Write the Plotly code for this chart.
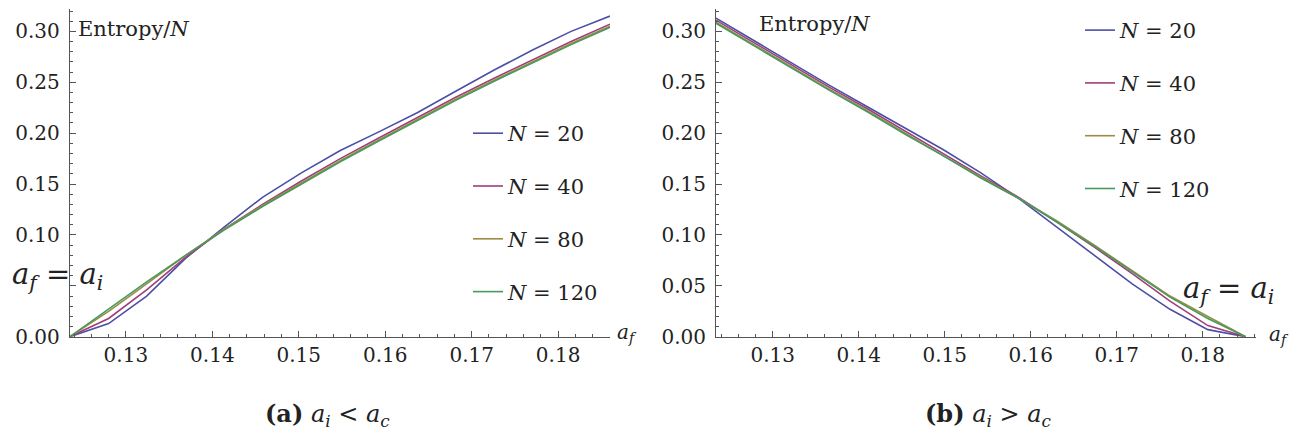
import plotly.graph_objects as go

# ---------------- data ----------------
series_labels = ["<i>N</i> = 20", "<i>N</i> = 40", "<i>N</i> = 80", "<i>N</i> = 120"]

# (a) a_i < a_c
af_left = [0.1235, 0.1280, 0.1324, 0.1369, 0.1414, 0.1458, 0.1503, 0.1548,
           0.1592, 0.1637, 0.1681, 0.1726, 0.1771, 0.1815, 0.1860]
left_N20 = [0.000, 0.013, 0.040, 0.077, 0.108, 0.137, 0.161, 0.183,
            0.201, 0.220, 0.241, 0.262, 0.282, 0.300, 0.315]
left_N40 = [0.000, 0.018, 0.046, 0.078, 0.106, 0.130, 0.153, 0.175,
            0.195, 0.215, 0.235, 0.254, 0.272, 0.290, 0.307]
left_N80 = [0.000, 0.025, 0.052, 0.080, 0.106, 0.129, 0.151, 0.173,
            0.193, 0.213, 0.233, 0.252, 0.270, 0.288, 0.305]
left_N120 = [0.000, 0.027, 0.054, 0.080, 0.105, 0.128, 0.150, 0.172,
             0.192, 0.212, 0.232, 0.251, 0.269, 0.287, 0.304]

# (b) a_i > a_c
af_right = [0.1234, 0.1278, 0.1322, 0.1366, 0.1410, 0.1454, 0.1498, 0.1542,
            0.1586, 0.1630, 0.1674, 0.1718, 0.1762, 0.1806, 0.1850]
right_N20 = [0.313, 0.291, 0.269, 0.247, 0.226, 0.205, 0.184, 0.161,
             0.136, 0.108, 0.080, 0.052, 0.027, 0.007, 0.000]
right_N40 = [0.311, 0.289, 0.267, 0.245, 0.224, 0.202, 0.180, 0.158,
             0.137, 0.113, 0.088, 0.062, 0.035, 0.011, 0.000]
right_N80 = [0.309, 0.287, 0.265, 0.243, 0.222, 0.200, 0.178, 0.157,
             0.136, 0.114, 0.090, 0.065, 0.040, 0.020, 0.000]
right_N120 = [0.308, 0.286, 0.264, 0.242, 0.221, 0.199, 0.178, 0.156,
              0.136, 0.113, 0.089, 0.064, 0.039, 0.018, 0.000]

x_ticks = [0.13, 0.14, 0.15, 0.16, 0.17, 0.18]
y_ticks = [0.00, 0.05, 0.10, 0.15, 0.20, 0.25, 0.30]
y_ticktext_left = ["0.00", "", "0.10", "0.15", "0.20", "0.25", "0.30"]
y_ticktext_right = ["0.00", "0.05", "0.10", "0.15", "0.20", "0.25", "0.30"]

colors = ["#4b4fa6", "#9e3f7a", "#9c8c45", "#479a5c"]

# ---------------- figure ----------------
W, H = 1308, 440
SERIF = "DejaVu Serif"

fig = go.Figure()
left_sets = [left_N20, left_N40, left_N80, left_N120]
right_sets = [right_N20, right_N40, right_N80, right_N120]
for i in range(4):
    fig.add_trace(go.Scatter(x=af_left, y=left_sets[i], mode="lines",
                             name=series_labels[i], legend="legend",
                             legendgroup="L%d" % i,
                             line=dict(color=colors[i], width=1.6),
                             xaxis="x", yaxis="y", cliponaxis=False))
for i in range(4):
    fig.add_trace(go.Scatter(x=af_right, y=right_sets[i], mode="lines",
                             name=series_labels[i], legend="legend2",
                             legendgroup="R%d" % i,
                             line=dict(color=colors[i], width=1.6),
                             xaxis="x2", yaxis="y2", cliponaxis=False))

def px(x):
    return x / W

def py(y):
    return 1 - y / H

ydom = [py(338), py(1)]

axis_common = dict(showgrid=False, zeroline=False, showline=True,
                   linecolor="#555555", linewidth=1, ticks="inside",
                   tickcolor="#555555", ticklen=6, tickwidth=1,
                   tickfont=dict(family=SERIF, size=20, color="#222222"))

fig.update_layout(
    width=W, height=H,
    margin=dict(l=0, r=0, t=0, b=0),
    paper_bgcolor="white", plot_bgcolor="white",
    showlegend=True,
    font=dict(family=SERIF),
    xaxis=dict(domain=[px(61.7), px(602)], range=[0.1235, 0.1860],
               anchor="y", tickvals=x_ticks, ticktext=["%.2f" % v for v in x_ticks],
               minor=dict(dtick=0.002, tick0=0.12, ticks="inside", ticklen=3,
                          tickcolor="#555555"),
               **axis_common),
    yaxis=dict(domain=ydom, range=[0, 0.322], anchor="x",
               tickvals=y_ticks, ticktext=y_ticktext_left, ticklabelstandoff=5,
               minor=dict(dtick=0.01, tick0=0, ticks="inside", ticklen=3,
                          tickcolor="#555555"),
               **axis_common),
    xaxis2=dict(domain=[px(708), px(1248)], range=[0.1234, 0.1862],
                anchor="y2", tickvals=x_ticks, ticktext=["%.2f" % v for v in x_ticks],
                minor=dict(dtick=0.002, tick0=0.12, ticks="inside", ticklen=3,
                           tickcolor="#555555"),
                **axis_common),
    yaxis2=dict(domain=ydom, range=[0, 0.322], anchor="x2",
                tickvals=y_ticks, ticktext=y_ticktext_right, ticklabelstandoff=5,
                minor=dict(dtick=0.01, tick0=0, ticks="inside", ticklen=3,
                           tickcolor="#555555"),
                **axis_common),
    legend=dict(x=px(460), y=py(108), xanchor="left", yanchor="top",
                font=dict(family=SERIF, size=21, color="#222222"),
                tracegroupgap=22.5, traceorder="grouped",
                bgcolor="rgba(0,0,0,0)", itemwidth=30),
    legend2=dict(x=px(1072), y=py(2), xanchor="left", yanchor="top",
                 font=dict(family=SERIF, size=21, color="#222222"),
                 tracegroupgap=22.5, traceorder="grouped",
                 bgcolor="rgba(0,0,0,0)", itemwidth=30),
)

ann_font = dict(family=SERIF, size=21, color="#222222")
af_font = dict(family=SERIF, size=20, color="#222222")
big_font = dict(family=SERIF, size=29, color="#222222")
cap_font = dict(family=SERIF, size=24, color="#222222")
eq = "<i>a</i><sub><i>f</i></sub> = <i>a</i><sub><i>i</i></sub>"
annotations = [
    dict(text="Entropy/<i>N</i>", x=px(68), y=py(22), xanchor="left", yanchor="middle",
         font=ann_font),
    dict(text="Entropy/<i>N</i>", x=px(749), y=py(16), xanchor="left", yanchor="middle",
         font=ann_font),
    dict(text=eq, x=px(2), y=py(275), xanchor="left", yanchor="middle", font=big_font),
    dict(text=eq, x=px(1173), y=py(290), xanchor="left", yanchor="middle", font=big_font),
    dict(text="<i>a</i><sub><i>f</i></sub>", x=px(607), y=py(334), xanchor="left",
         yanchor="middle", font=af_font),
    dict(text="<i>a</i><sub><i>f</i></sub>", x=px(1259), y=py(336), xanchor="left",
         yanchor="middle", font=af_font),
    dict(text="<b>(a)</b> <i>a</i><sub><i>i</i></sub> &lt; <i>a</i><sub><i>c</i></sub>",
         x=px(319), y=py(418), xanchor="center", yanchor="middle", font=cap_font),
    dict(text="<b>(b)</b> <i>a</i><sub><i>i</i></sub> &gt; <i>a</i><sub><i>c</i></sub>",
         x=px(980), y=py(418), xanchor="center", yanchor="middle", font=cap_font),
]
for a in annotations:
    a.update(xref="paper", yref="paper", showarrow=False)
fig.update_layout(annotations=annotations)

fig.write_html("out.html")
